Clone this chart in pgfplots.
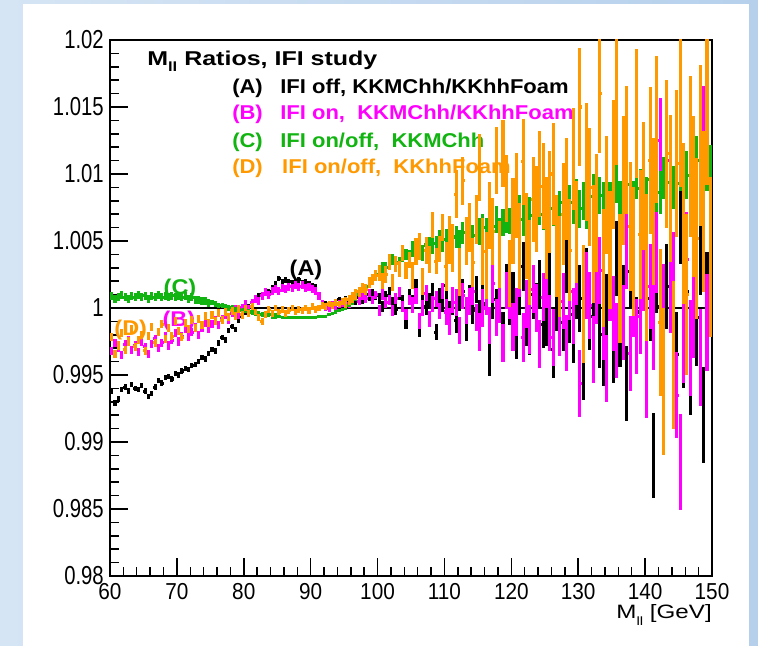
\documentclass[border=0pt]{standalone}
\usepackage{fontspec}
\setmainfont{Liberation Sans}
\newfontfamily\ytf[FakeStretch=0.78]{Liberation Sans}
\newfontfamily\xtf[FakeStretch=0.9]{Liberation Sans}
\newfontfamily\legf[FakeStretch=1.1]{Liberation Sans}
\newfontfamily\titf[FakeStretch=1.25]{Liberation Sans}
\usepackage{pgfplots}
\usepackage{pgfplotstable}
\pgfplotsset{compat=1.18}
\definecolor{rgreen}{RGB}{17,180,17}
\definecolor{rorange}{RGB}{255,153,0}
\definecolor{rmag}{RGB}{255,0,255}
\definecolor{bgL}{RGB}{214,229,244}
\definecolor{bgR}{RGB}{182,208,236}

\pgfplotstableread{
x a ea b eb c ec d ed
60.25 0.9938 0.0002 0.9968 0.0003 1.0009 0.0003 0.9978 0.0003
60.75 0.9929 0.0002 0.9974 0.0003 1.0007 0.0003 0.9966 0.0003
61.25 0.9932 0.0002 0.9970 0.0003 1.0008 0.0003 0.9972 0.0003
61.75 0.9939 0.0002 0.9965 0.0003 1.0010 0.0003 0.9981 0.0003
62.25 0.9941 0.0002 0.9973 0.0003 1.0008 0.0003 0.9969 0.0003
62.75 0.9938 0.0002 0.9976 0.0003 1.0007 0.0003 0.9975 0.0003
63.25 0.9943 0.0002 0.9969 0.0003 1.0009 0.0003 0.9984 0.0003
63.75 0.9940 0.0002 0.9972 0.0003 1.0008 0.0003 0.9971 0.0003
64.25 0.9939 0.0002 0.9967 0.0003 1.0010 0.0003 0.9976 0.0003
64.75 0.9942 0.0002 0.9975 0.0003 1.0008 0.0003 0.9980 0.0003
65.25 0.9938 0.0002 0.9971 0.0003 1.0009 0.0003 0.9968 0.0003
65.75 0.9934 0.0002 0.9966 0.0003 1.0007 0.0003 0.9979 0.0003
66.25 0.9936 0.0002 0.9973 0.0003 1.0009 0.0003 0.9986 0.0003
66.75 0.9941 0.0002 0.9977 0.0003 1.0008 0.0003 0.9974 0.0003
67.25 0.9946 0.0002 0.9970 0.0003 1.0010 0.0003 0.9982 0.0003
67.75 0.9944 0.0002 0.9974 0.0003 1.0008 0.0003 0.9988 0.0003
68.25 0.9948 0.0002 0.9979 0.0003 1.0009 0.0003 0.9977 0.0003
68.75 0.9949 0.0002 0.9972 0.0003 1.0008 0.0003 0.9985 0.0003
69.25 0.9947 0.0002 0.9976 0.0003 1.0009 0.0003 0.9979 0.0003
69.75 0.9951 0.0002 0.9981 0.0003 1.0008 0.0003 0.9990 0.0003
70.25 0.9950 0.0002 0.9975 0.0003 1.0009 0.0003 0.9983 0.0003
70.75 0.9953 0.0002 0.9979 0.0003 1.0008 0.0003 0.9978 0.0003
71.25 0.9955 0.0002 0.9984 0.0003 1.0009 0.0003 0.9989 0.0003
71.75 0.9954 0.0002 0.9978 0.0003 1.0007 0.0003 0.9984 0.0003
72.25 0.9957 0.0002 0.9982 0.0003 1.0008 0.0003 0.9991 0.0003
72.75 0.9958 0.0002 0.9986 0.0003 1.0006 0.0003 0.9985 0.0003
73.25 0.9960 0.0002 0.9980 0.0003 1.0006 0.0003 0.9992 0.0003
73.75 0.9963 0.0002 0.9985 0.0003 1.0005 0.0003 0.9987 0.0003
74.25 0.9962 0.0002 0.9989 0.0003 1.0005 0.0003 0.9994 0.0003
74.75 0.9966 0.0002 0.9984 0.0003 1.0004 0.0003 0.9989 0.0003
75.25 0.9969 0.0002 0.9988 0.0003 1.0004 0.0002 0.9995 0.0003
75.75 0.9968 0.0002 0.9991 0.0003 1.0003 0.0002 0.9990 0.0003
76.25 0.9974 0.0002 0.9987 0.0003 1.0002 0.0002 0.9996 0.0003
76.75 0.9978 0.0002 0.9992 0.0003 1.0002 0.0002 0.9991 0.0003
77.25 0.9976 0.0002 0.9995 0.0003 1.0001 0.0002 0.9997 0.0003
77.75 0.9983 0.0002 0.9991 0.0003 1.0000 0.0002 0.9993 0.0003
78.25 0.9986 0.0002 0.9996 0.0003 1.0000 0.0002 0.9998 0.0003
78.75 0.9984 0.0002 0.9999 0.0003 0.9999 0.0002 0.9994 0.0003
79.25 0.9991 0.0002 0.9995 0.0003 0.9999 0.0002 0.9999 0.0003
79.75 0.9994 0.0002 1.0000 0.0003 0.9998 0.0002 0.9995 0.0003
80.25 0.9997 0.0002 1.0003 0.0003 0.9998 0.0002 1.0000 0.00025
80.75 1.0001 0.0002 0.9999 0.0003 0.9997 0.0002 0.9996 0.00025
81.25 1.0004 0.0002 1.0004 0.0003 0.9997 0.0002 1.0001 0.00025
81.75 1.0006 0.0002 1.0007 0.0003 0.9996 0.0002 0.9997 0.00025
82.25 1.0009 0.0002 1.0005 0.0003 0.9996 0.0002 0.9993 0.00025
82.75 1.0010 0.0002 1.0009 0.0003 0.9995 0.0002 0.9990 0.00025
83.25 1.0013 0.0002 1.0012 0.0003 0.9995 0.0002 0.9995 0.00025
83.75 1.0012 0.0002 1.0010 0.0003 0.9995 0.0002 0.9999 0.00025
84.25 1.0015 0.0002 1.0013 0.0003 0.9994 0.0002 0.9996 0.00025
84.75 1.0018 0.0002 1.0014 0.0003 0.9994 0.0002 1.0000 0.00025
85.25 1.0022 0.0002 1.0013 0.0003 0.9994 0.0001 0.9997 0.00025
85.75 1.0020 0.0002 1.0015 0.0003 0.9993 0.0001 0.9999 0.00025
86.25 1.0021 0.0002 1.0014 0.0003 0.9993 0.0001 0.9996 0.00025
86.75 1.0020 0.0002 1.0016 0.0003 0.9993 0.0001 0.9998 0.00025
87.25 1.0019 0.0002 1.0015 0.0003 0.9993 0.0001 1.0000 0.00025
87.75 1.0020 0.0002 1.0017 0.0003 0.9993 0.0001 0.9997 0.00025
88.25 1.0021 0.0002 1.0016 0.0003 0.9993 0.0001 0.9999 0.00025
88.75 1.0019 0.0002 1.0017 0.0003 0.9993 0.0001 0.9998 0.00025
89.25 1.0020 0.0002 1.0015 0.0003 0.9993 0.0001 1.0000 0.00025
89.75 1.0018 0.0002 1.0016 0.0003 0.9993 0.0001 0.9998 0.00025
90.25 1.0017 0.0002 1.0014 0.0003 0.9993 0.0001 1.0001 0.00025
90.75 1.0016 0.0002 1.0013 0.0003 0.9993 0.0001 0.9999 0.00025
91.25 1.0010 0.0002 1.0009 0.0003 0.9994 0.0001 1.0000 0.00025
91.75 1.0004 0.0002 1.0003 0.0003 0.9994 0.0001 1.0002 0.00025
92.25 1.0003 0.0002 1.0001 0.0003 0.9994 0.0001 1.0001 0.00025
92.75 1.0001 0.0002 1.0000 0.0003 0.9995 0.0001 1.0003 0.00025
93.25 1.0003 0.0002 1.0002 0.0003 0.9996 0.0001 1.0002 0.00025
93.75 1.0004 0.0002 1.0001 0.0003 0.9997 0.0001 1.0004 0.00025
94.25 1.0006 0.0002 1.0003 0.0003 0.9998 0.0001 1.0003 0.00025
94.75 1.0005 0.0002 1.0004 0.0003 0.9999 0.0001 1.0005 0.00025
95.25 1.0006 0.0003 1.0005 0.0003 1.0000 0.00015 1.0004 0.0004
95.75 1.0004 0.0003 1.0003 0.0003 1.0002 0.00015 1.0006 0.0004
96.25 1.0007 0.0003 1.0006 0.0003 1.0004 0.00015 1.0008 0.0004
96.75 1.0005 0.0003 1.0008 0.0003 1.0007 0.00015 1.0010 0.0004
97.25 1.0008 0.0003 1.0005 0.0003 1.0010 0.00015 1.0012 0.0004
97.75 1.0006 0.0003 1.0009 0.0003 1.0013 0.00015 1.0015 0.0004
98.25 1.0010 0.0003 1.0007 0.0003 1.0016 0.00015 1.0014 0.0004
98.75 1.0008 0.0003 1.0011 0.0003 1.0019 0.00015 1.0019 0.0004
99.25 1.0011 0.0003 1.0006 0.0003 1.0022 0.00015 1.0021 0.0004
99.75 1.0009 0.0003 1.0010 0.0003 1.0025 0.00015 1.0024 0.0004
100.25 1.0007 0.0004 0.9998 0.0004 1.0024 0.0004 1.0026 0.0006
100.75 1.0001 0.0004 1.0010 0.0004 1.0030 0.0004 1.0020 0.0006
101.25 1.0009 0.0004 1.0004 0.0004 1.0030 0.0004 1.0025 0.0006
101.75 1.0012 0.0004 1.0006 0.0004 1.0033 0.0004 1.0034 0.0006
102.25 1.0004 0.0004 0.9998 0.0004 1.0036 0.0004 1.0019 0.0006
102.75 0.9999 0.0004 1.0007 0.0004 1.0034 0.0004 1.0033 0.0006
103.25 1.0010 0.0004 1.0012 0.0004 1.0034 0.0004 1.0029 0.0006
103.75 1.0006 0.0004 1.0001 0.0004 1.0038 0.0004 1.0041 0.0006
104.25 0.9988 0.0004 0.9995 0.0004 1.0040 0.0004 1.0028 0.0006
104.75 1.0010 0.0004 1.0006 0.0004 1.0039 0.0004 1.0036 0.0006
105.25 1.0004 0.0006 1.0002 0.0006 1.0044 0.0006 1.0024 0.0010
105.75 1.0016 0.0006 1.0009 0.0006 1.0042 0.0006 1.0042 0.0010
106.25 0.9984 0.0006 0.9990 0.0006 1.0044 0.0006 1.0046 0.0010
106.75 1.0008 0.0006 1.0000 0.0006 1.0041 0.0006 1.0020 0.0010
107.25 1.0001 0.0006 1.0011 0.0006 1.0047 0.0006 1.0043 0.0010
107.75 1.0005 0.0006 0.9992 0.0006 1.0047 0.0006 1.0036 0.0010
108.25 1.0013 0.0006 1.0003 0.0006 1.0046 0.0006 1.0062 0.0010
108.75 0.9982 0.0006 1.0007 0.0006 1.0048 0.0006 1.0035 0.0010
109.25 1.0009 0.0006 0.9998 0.0006 1.0052 0.0006 1.0044 0.0010
109.75 1.0003 0.0006 1.0013 0.0006 1.0048 0.0006 1.0060 0.0010
110.25 1.0017 0.0010 0.9997 0.0010 1.0051 0.0008 1.0031 0.0018
110.75 0.9995 0.0010 0.9990 0.0010 1.0049 0.0008 1.0051 0.0018
111.25 1.0005 0.0010 1.0006 0.0010 1.0055 0.0008 1.0045 0.0018
111.75 0.9991 0.0010 1.0004 0.0010 1.0053 0.0008 1.0085 0.0018
112.25 1.0008 0.0010 0.9983 0.0010 1.0050 0.0008 1.0027 0.0018
112.75 1.0012 0.0010 1.0009 0.0010 1.0056 0.0008 1.0095 0.0018
113.25 0.9985 0.0010 0.9998 0.0010 1.0059 0.0008 1.0050 0.0018
113.75 1.0007 0.0010 1.0005 0.0010 1.0055 0.0008 1.0060 0.0018
114.25 0.9998 0.0010 1.0012 0.0010 1.0054 0.0008 1.0034 0.0018
114.75 1.0014 0.0010 0.9993 0.0010 1.0063 0.0008 1.0066 0.0018
115.25 0.9992 0.0014 0.9982 0.0014 1.0057 0.0010 1.0105 0.0025
115.75 1.0003 0.0014 1.0000 0.0014 1.0060 0.0010 1.0042 0.0025
116.25 1.0022 0.0014 1.0009 0.0014 1.0057 0.0010 1.0032 0.0025
116.75 0.9963 0.0014 0.9987 0.0014 1.0063 0.0010 1.0069 0.0025
117.25 1.0006 0.0014 1.0018 0.0014 1.0061 0.0010 1.0057 0.0025
117.75 1.0000 0.0014 0.9993 0.0014 1.0066 0.0010 1.0110 0.0025
118.25 1.0013 0.0014 1.0003 0.0014 1.0057 0.0010 1.0040 0.0025
118.75 0.9983 0.0014 0.9974 0.0014 1.0064 0.0010 1.0115 0.0025
119.25 1.0019 0.0014 1.0013 0.0014 1.0066 0.0010 1.0089 0.0025
119.75 1.0001 0.0014 1.0006 0.0014 1.0065 0.0010 1.0026 0.0025
120.25 1.0009 0.0018 0.9986 0.0018 1.0061 0.0012 1.0065 0.0032
120.75 0.9980 0.0018 0.9997 0.0018 1.0069 0.0012 1.0084 0.0032
121.25 1.0013 0.0018 1.0026 0.0018 1.0072 0.0012 1.0046 0.0032
121.75 1.0031 0.0018 0.9978 0.0018 1.0066 0.0012 1.0109 0.0032
122.25 0.9990 0.0018 1.0003 0.0018 1.0061 0.0012 1.0054 0.0032
122.75 0.9983 0.0018 0.9984 0.0018 1.0071 0.0012 1.0034 0.0032
123.25 1.0010 0.0018 1.0014 0.0018 1.0069 0.0012 1.0081 0.0032
123.75 1.0001 0.0018 1.0000 0.0018 1.0067 0.0012 1.0074 0.0032
124.25 1.0018 0.0018 0.9973 0.0018 1.0074 0.0012 1.0100 0.0032
124.75 0.9988 0.0018 1.0008 0.0018 1.0070 0.0012 1.0091 0.0032
125.25 0.9993 0.0021 1.0021 0.0021 1.0078 0.0013 1.0060 0.0038
125.75 1.0027 0.0021 0.9989 0.0021 1.0068 0.0013 1.0079 0.0038
126.25 0.9969 0.0021 0.9978 0.0021 1.0074 0.0013 1.0100 0.0038
126.75 1.0004 0.0021 1.0036 0.0021 1.0071 0.0013 1.0046 0.0038
127.25 1.0016 0.0021 0.9985 0.0021 1.0074 0.0013 1.0031 0.0038
127.75 0.9989 0.0021 1.0005 0.0021 1.0079 0.0013 1.0070 0.0038
128.25 1.0032 0.0021 0.9974 0.0021 1.0070 0.0013 1.0089 0.0038
128.75 0.9995 0.0021 1.0012 0.0021 1.0079 0.0013 1.0043 0.0038
129.25 0.9980 0.0021 0.9994 0.0021 1.0076 0.0013 1.0111 0.0038
129.75 1.0013 0.0021 1.0023 0.0021 1.0083 0.0013 1.0057 0.0038
130.25 1.0007 0.0025 0.9944 0.0025 1.0074 0.0014 1.0150 0.0044
130.75 0.9956 0.0025 1.0002 0.0025 1.0080 0.0014 1.0003 0.0044
131.25 1.0020 0.0025 1.0017 0.0025 1.0073 0.0014 1.0109 0.0044
131.75 0.9994 0.0025 1.0002 0.0025 1.0083 0.0014 1.0090 0.0044
132.25 1.0009 0.0025 0.9969 0.0025 1.0086 0.0014 1.0048 0.0044
132.75 1.0027 0.0025 1.0013 0.0025 1.0071 0.0014 1.0071 0.0044
133.25 0.9980 0.0025 1.0028 0.0025 1.0084 0.0014 1.0160 0.0044
133.75 0.9967 0.0025 0.9986 0.0025 1.0080 0.0014 1.0030 0.0044
134.25 1.0000 0.0025 0.9955 0.0025 1.0089 0.0014 1.0084 0.0044
134.75 1.0016 0.0025 1.0015 0.0025 1.0080 0.0014 1.0043 0.0044
135.25 0.9972 0.0028 0.9996 0.0028 1.0085 0.0015 1.0107 0.0048
135.75 1.0037 0.0028 0.9976 0.0028 1.0093 0.0015 1.0155 0.0048
136.25 0.9984 0.0028 1.0022 0.0028 1.0080 0.0015 1.0022 0.0048
136.75 1.0004 0.0028 0.9989 0.0028 1.0088 0.0015 1.0095 0.0048
137.25 0.9944 0.0028 1.0042 0.0028 1.0086 0.0015 1.0118 0.0048
137.75 1.0027 0.0028 0.9966 0.0028 1.0092 0.0015 1.0061 0.0048
138.25 1.0012 0.0028 1.0006 0.0028 1.0080 0.0015 1.0042 0.0048
138.75 0.9980 0.0028 0.9979 0.0028 1.0096 0.0015 1.0145 0.0048
139.25 0.9997 0.0028 0.9994 0.0028 1.0089 0.0015 1.0055 0.0048
139.75 1.0044 0.0028 1.0026 0.0028 1.0092 0.0015 1.0091 0.0048
140.25 0.9956 0.0032 0.9950 0.0032 1.0082 0.0016 1.0030 0.0055
140.75 1.0007 0.0032 1.0016 0.0032 1.0096 0.0016 1.0110 0.0055
141.25 0.9890 0.0032 0.9986 0.0032 1.0103 0.0016 1.0072 0.0055
141.75 1.0028 0.0032 1.0043 0.0032 1.0088 0.0016 1.0133 0.0055
142.25 1.0001 0.0032 1.0125 0.0032 1.0086 0.0016 0.9989 0.0055
142.75 0.9947 0.0032 1.0001 0.0032 1.0097 0.0016 0.9945 0.0055
143.25 1.0016 0.0032 1.0110 0.0032 1.0094 0.0016 1.0115 0.0055
143.75 1.0037 0.0032 1.0013 0.0032 1.0101 0.0016 1.0089 0.0055
144.25 0.9983 0.0032 1.0025 0.0032 1.0090 0.0016 0.9965 0.0055
144.75 0.9965 0.0032 0.9935 0.0032 1.0093 0.0016 1.0108 0.0055
145.25 1.0069 0.0036 0.9885 0.0036 1.0105 0.0018 1.0150 0.0060
145.75 0.9976 0.0036 0.9980 0.0036 1.0087 0.0018 1.0063 0.0060
146.25 1.0012 0.0036 1.0036 0.0036 1.0099 0.0018 1.0010 0.0060
146.75 0.9956 0.0036 0.9970 0.0036 1.0103 0.0018 1.0113 0.0060
147.25 1.0026 0.0036 0.9999 0.0036 1.0095 0.0018 1.0083 0.0060
147.75 0.9993 0.0036 1.0052 0.0036 1.0110 0.0018 1.0052 0.0060
148.25 1.0046 0.0036 0.9963 0.0036 1.0098 0.0018 1.0121 0.0060
148.75 0.9920 0.0036 1.0130 0.0036 1.0094 0.0018 1.0072 0.0060
149.25 1.0006 0.0036 0.9989 0.0036 1.0105 0.0018 1.0152 0.0060
149.75 1.0029 0.0036 1.0026 0.0036 1.0104 0.0018 1.0038 0.0060
}\data

\pgfplotsset{errs/.style={draw=none, mark=none, mark options={draw=none, fill=none},
  error bars/y dir=both, error bars/y explicit,
  error bars/x dir=both, error bars/x fixed=0.25,
  error bars/error mark=none,
  error bars/draw error bar/.code 2 args={\draw[#1, line width=2.3pt] ##1 -- ##2;},
  error bars/error bar style={line width=2.3pt, draw=#1, solid}}}

\begin{document}
\begin{tikzpicture}
\useasboundingbox (-82.5pt,-52.5pt) rectangle (486pt,432pt);
\shade[left color=bgL, right color=bgR] (-82.5pt,-52.5pt) rectangle (486pt,432pt);
\fill[white] (-65.25pt,-52.5pt) rectangle (479.25pt,429pt);
\begin{axis}[
  scale only axis, width=451.5pt, height=402pt,
  at={(0pt,0pt)}, anchor=south west,
  xmin=60, xmax=150, ymin=0.98, ymax=1.02,
  axis line style={line width=1.5pt},
  tick align=inside, tick pos=left,
  xtick={60,70,80,90,100,110,120,130,140,150},
  xticklabels={60,70,80,90,100,110,120,130,140,150},
  minor x tick num=4,
  ytick={0.98,0.985,0.99,0.995,1,1.005,1.01,1.015,1.02},
  yticklabels={0.98,0.985,0.99,0.995,1,1.005,1.01,1.015,1.02},
  minor y tick num=4,
  major tick length=13.5pt, minor tick length=7pt,
  every tick/.append style={line width=1.1pt, black},
  xticklabel style={font=\xtf\fontsize{17.3}{18}\selectfont, inner sep=0pt, yshift=-5pt},
  yticklabel style={font=\ytf\fontsize{19.5}{20}\selectfont, inner sep=0pt, xshift=-4.5pt},
]
\draw[black, line width=1.1pt] (axis cs:60,1) -- (axis cs:150,1);
\node[anchor=base west, inner sep=0pt] at (axis cs:65.53,1.01813)
  {\titf\bfseries\fontsize{15}{16}\selectfont M\raisebox{-0.3em}{\fontsize{10}{10}\selectfont ll} Ratios, IFI study};
\node[anchor=base west, inner sep=0pt] at (axis cs:78.24,1.01604) {\legf\bfseries\fontsize{15}{16}\selectfont (A)};
\node[anchor=base west, inner sep=0pt] at (axis cs:85.42,1.01604) {\legf\bfseries\fontsize{15}{16}\selectfont IFI off, KKMChh/KKhhFoam};
\node[anchor=base west, inner sep=0pt, text=rmag] at (axis cs:78.24,1.01403) {\legf\bfseries\fontsize{15}{16}\selectfont (B)};
\node[anchor=base west, inner sep=0pt, text=rmag] at (axis cs:85.42,1.01403) {\legf\bfseries\fontsize{15}{16}\selectfont IFI on,\ \ KKMChh/KKhhFoam};
\node[anchor=base west, inner sep=0pt, text=rgreen] at (axis cs:78.24,1.01201) {\legf\bfseries\fontsize{15}{16}\selectfont (C)};
\node[anchor=base west, inner sep=0pt, text=rgreen] at (axis cs:85.42,1.01201) {\legf\bfseries\fontsize{15}{16}\selectfont IFI on/off,\ \ KKMChh};
\node[anchor=base west, inner sep=0pt, text=rorange] at (axis cs:78.24,1.01007) {\legf\bfseries\fontsize{15}{16}\selectfont (D)};
\node[anchor=base west, inner sep=0pt, text=rorange] at (axis cs:85.71,1.01007) {\legf\bfseries\fontsize{15}{16}\selectfont IFI on/off,\ \ KKhhFoam};

\addplot[errs=black] table[x=x, y=a, y error=ea] {\data};
\node[inner sep=0pt] at (axis cs:89.3,1.00284) {\legf\bfseries\fontsize{16}{17}\selectfont (A)};
\addplot[errs=rmag] table[x=x, y=b, y error=eb] {\data};
\node[inner sep=0pt, text=rmag] at (axis cs:70.3,0.99903) {\legf\bfseries\fontsize{16}{17}\selectfont (B)};
\addplot[errs=rgreen] table[x=x, y=c, y error=ec] {\data};
\node[inner sep=0pt, text=rgreen] at (axis cs:70.47,1.00142) {\legf\bfseries\fontsize{16}{17}\selectfont (C)};
\addplot[errs=rorange] table[x=x, y=d, y error=ed] {\data};
\node[inner sep=0pt, text=rorange] at (axis cs:63.1,0.99836) {\legf\bfseries\fontsize{16}{17}\selectfont (D)};
\end{axis}
\node[anchor=base east, inner sep=0pt] at (451.5pt,-32pt)
  {\titf\fontsize{14.5}{15}\selectfont M\raisebox{-0.35em}{\fontsize{9}{9}\selectfont ll} [GeV]};
\end{tikzpicture}
\end{document}
